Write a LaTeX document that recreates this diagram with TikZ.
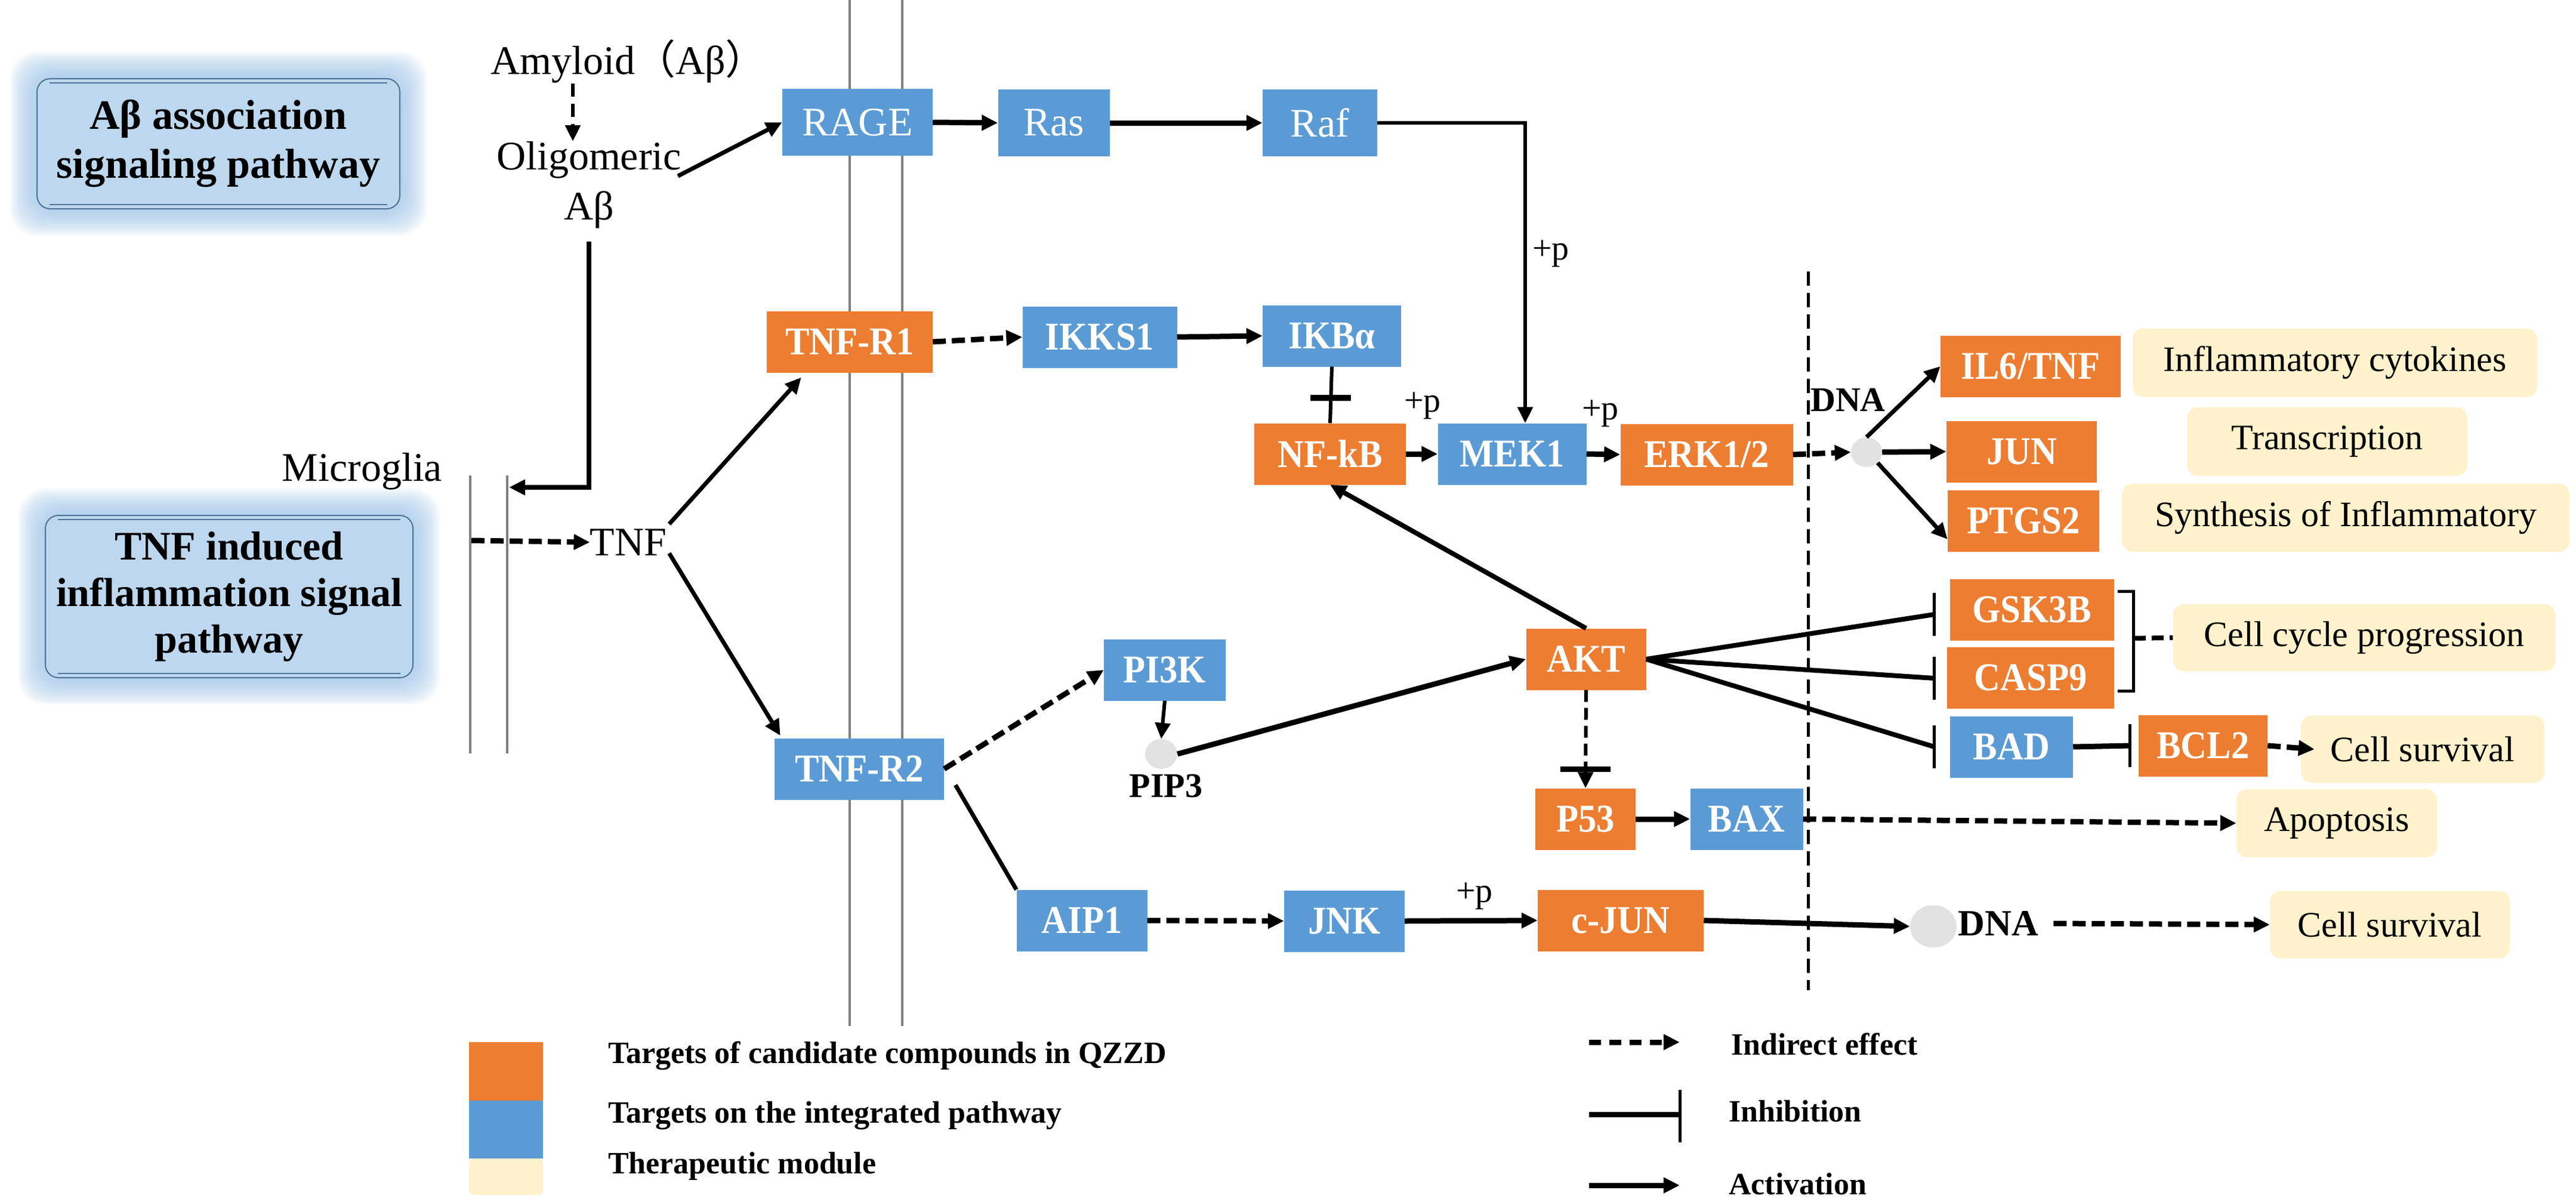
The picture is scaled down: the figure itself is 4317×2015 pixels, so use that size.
\documentclass[tikz,border=0pt]{standalone}
\usepackage{fontspec}
\setmainfont{Liberation Serif}
\newfontfamily\condbold[FakeStretch=0.92]{Liberation Serif Bold}
\newfontfamily\cjkfont{Noto Sans CJK SC}
\usetikzlibrary{arrows.meta,calc,shapes.geometric}
\definecolor{qorange}{HTML}{ED7D31}
\definecolor{qblue}{HTML}{5B9BD5}
\definecolor{qcream}{HTML}{FFF2CC}
\definecolor{qlight}{HTML}{BDD7EE}
\definecolor{qglow}{HTML}{9DC3E6}
\definecolor{qedge}{HTML}{4E7397}
\definecolor{qmem}{HTML}{808080}
\definecolor{qdna}{HTML}{E2E2E2}
\newcommand{\qfs}[2]{\fontsize{#1}{#2}\selectfont}
\begin{document}
\begin{tikzpicture}[x=1pt,y=-1pt,
  box/.style={minimum height=103, inner sep=0pt, text=white, font=\condbold\qfs{66}{66}},
  ob/.style={box, fill=qorange},
  bb/.style={box, fill=qblue},
  rb/.style={box, fill=qblue, minimum height=112, font=\qfs{68}{68}},
  cb/.style={fill=qcream, rounded corners=18, minimum height=114, inner sep=0pt, font=\qfs{60}{60}},
  lbl/.style={inner sep=0pt, font=\qfs{68}{68}},
  plabel/.style={inner sep=0pt, font=\qfs{58}{58}},
  boldlbl/.style={inner sep=0pt, font=\qfs{58}{58}\bfseries},
  lbox/.style={fill=qlight, draw=qedge, line width=2, rounded corners=22, align=center, inner sep=0pt},
  legtext/.style={anchor=west, inner sep=0pt, font=\qfs{52}{52}\bfseries},
  tip/.style={-{Triangle[length=27pt,width=25pt]}},
  act/.style={line width=9, tip},
  thinact/.style={line width=6, tip},
  dashact/.style={line width=9, dash pattern=on 22pt off 10pt, tip},
  dashline/.style={line width=8, dash pattern=on 20pt off 10pt},
  inh/.style={line width=8},
  barline/.style={line width=5},
  mem/.style={draw=qmem, line width=4},
  divider/.style={line width=5, dash pattern=on 24pt off 12pt},
  dnacirc/.style={ellipse, fill=qdna, inner sep=0pt}
]
\useasboundingbox (0,0) rectangle (4317,2015);

% ---------------- left panel boxes with glow ----------------
\foreach \d in {3,6,...,45}
  \fill[qglow, opacity=0.09, rounded corners=45] ({62-\d},{132-\d}) rectangle ({670+\d},{350+\d});
\node[lbox, minimum width=608, minimum height=218, font=\qfs{70}{82}\bfseries] (abox) at (366,241) {Aβ association\\signaling pathway};
\draw[qedge, line width=2] ($(abox.north west)+(22,8)$) -- ($(abox.north east)+(-22,8)$);
\draw[qedge, line width=2] ($(abox.south west)+(22,-8)$) -- ($(abox.south east)+(-22,-8)$);

\foreach \d in {3,6,...,45}
  \fill[qglow, opacity=0.09, rounded corners=45] ({76-\d},{864-\d}) rectangle ({692+\d},{1136+\d});
\node[lbox, minimum width=616, minimum height=272, font=\qfs{68}{78}\bfseries] (tbox) at (384,1000) {TNF induced\\inflammation signal\\pathway};
\draw[qedge, line width=2] ($(tbox.north west)+(22,8)$) -- ($(tbox.north east)+(-22,8)$);
\draw[qedge, line width=2] ($(tbox.south west)+(22,-8)$) -- ($(tbox.south east)+(-22,-8)$);

% ---------------- membranes ----------------
\draw[mem] (1424,0) -- (1424,1720);
\draw[mem] (1512,0) -- (1512,1720);
\draw[mem] (788,797) -- (788,1263);
\draw[mem] (850,797) -- (850,1263);
\draw[divider] (3030,455) -- (3030,1660);

% ---------------- free labels ----------------
\node[lbl] (amy) at (1053,103) {Amyloid{\cjkfont （}Aβ{\cjkfont ）}};
\node[lbl] (olig) at (987,268) {Oligomeric};
\node[lbl] (ab) at (987,352) {Aβ};
\node[lbl] (micro) at (607,790) {Microglia};
\node[lbl] (tnf) at (1053,909) {TNF};
\coordinate (mgin) at (853,817);
\coordinate (mout) at (790,906);

% ---------------- nodes ----------------
\node[rb, minimum width=252] (RAGE) at (1437,205) {RAGE};
\node[rb, minimum width=187] (Ras) at (1766,206) {Ras};
\node[rb, minimum width=192] (Raf) at (2212,206) {Raf};
\node[ob, minimum width=278] (TNFR1) at (1424,573) {TNF-R1};
\node[bb, minimum width=259] (IKKS1) at (1843,565) {IKKS1};
\node[bb, minimum width=232] (IKBa) at (2232,563) {IKBα};
\node[ob, minimum width=254] (NFkB) at (2229,761) {NF-kB};
\node[bb, minimum width=249] (MEK1) at (2534,761) {MEK1};
\node[ob, minimum width=289] (ERK) at (2860,762) {ERK1/2};
\node[ob, minimum width=302] (IL6) at (3403,614) {IL6/TNF};
\node[ob, minimum width=252] (JUN) at (3388,757) {JUN};
\node[ob, minimum width=254] (PTGS2) at (3391,873) {PTGS2};
\node[ob, minimum width=275] (GSK) at (3405,1022) {GSK3B};
\node[ob, minimum width=280] (CASP) at (3403,1136) {CASP9};
\node[bb, minimum width=206] (BAD) at (3371,1252) {BAD};
\node[ob, minimum width=216] (BCL2) at (3692,1250) {BCL2};
\node[ob, minimum width=201] (AKT) at (2658,1105) {AKT};
\node[ob, minimum width=168] (P53) at (2657,1373) {P53};
\node[bb, minimum width=189] (BAX) at (2927,1373) {BAX};
\node[ob, minimum width=278] (cJUN) at (2716,1543) {c-JUN};
\node[bb, minimum width=284] (TNFR2) at (1440,1289) {TNF-R2};
\node[bb, minimum width=204] (PI3K) at (1952,1123) {PI3K};
\node[bb, minimum width=219] (AIP1) at (1813,1543) {AIP1};
\node[bb, minimum width=202] (JNK) at (2253,1544) {JNK};

\node[dnacirc, minimum width=52, minimum height=50] (dna1) at (3128,758) {};
\node[boldlbl] (dnat1) at (3097,670) {DNA};
\node[dnacirc, minimum width=54, minimum height=50] (pip) at (1946,1264) {};
\node[boldlbl] (pipt) at (1954,1318) {PIP3};
\node[dnacirc, minimum width=78, minimum height=71] (dna2) at (3240,1553) {};
\node[boldlbl, font=\qfs{62}{62}\bfseries] (dnat2) at (3349,1548) {DNA};

% therapeutic modules
\node[cb, minimum width=678, minimum height=115] (infl) at (3913,608) {Inflammatory cytokines};
\node[cb, minimum width=469, minimum height=115] (trans) at (3900,740) {Transcription};
\node[cb, minimum width=750] (synth) at (3931,868) {Synthesis of Inflammatory};
\node[cb, minimum width=641, minimum height=112] (ccp) at (3962,1069) {Cell cycle progression};
\node[cb, minimum width=408, minimum height=113] (cs1) at (4060,1256) {Cell survival};
\node[cb, minimum width=336] (apop) at (3916,1380) {Apoptosis};
\node[cb, minimum width=402, minimum height=113] (cs2) at (4005,1550) {Cell survival};

% ---------------- connectors ----------------
\draw[dashact, line width=6, dash pattern=on 22pt off 12pt] (amy.south -| 960,0) -- (olig.north -| 960,0);
\draw[act, line width=7] ($(olig.south east)+(-6,-4)$) -- (RAGE.west);
\draw[act, line width=8] ($(ab.south)+(0,22)$) |- (mgin);
\draw[dashact] (mout) -- (tnf.west);
\draw[act, line width=7] ($(tnf.north east)+(4,-8)$) -- ($(TNFR1.south west)+(58,8)$);
\draw[act, line width=7] ($(tnf.south east)+(4,-4)$) -- ($(TNFR2.north west)+(10,-4)$);

\draw[act] (RAGE.east) -- (Ras.west);
\draw[act] (Ras.east) -- (Raf.west);
\draw[thinact] (Raf.east) -| ($(MEK1.north)+(22,0)$);
\node[plabel] (p1) at (2599,425) {+p};

\draw[dashact] (TNFR1.east) -- (IKKS1.west);
\draw[act] (IKKS1.east) -- (IKBa.west);
\draw[line width=6] (IKBa.south) -- (NFkB.north);
\draw[line width=10] ($(IKBa.south)!0.55!(NFkB.north)+(-34,0)$) -- ($(IKBa.south)!0.55!(NFkB.north)+(34,0)$);

\draw[act] (NFkB.east) -- (MEK1.west);
\draw[act] (MEK1.east) -- (ERK.west);
\node[plabel] (p2) at (2384,680) {+p};
\node[plabel] (p3) at (2682,693) {+p};

\draw[dashact] (ERK.east) -- (dna1.west);
\draw[act, line width=7] (dna1.north) -- (IL6.west);
\draw[act] (dna1.east) -- (JUN.west);
\draw[act, line width=7] (dna1.south east) -- ($(PTGS2.west)+(0,31)$);

\draw[act, line width=8] (AKT.north) -- (NFkB.south);
\draw[thinact] (PI3K.south) -- (pip.north);
\draw[act] (pip.east) -- (AKT.west);
\draw[dashact] (TNFR2.east) -- (PI3K.west);
\draw[line width=7] ($(TNFR2.east)+(19,27)$) -- (AIP1.north west);
\draw[dashact] (AIP1.east) -- (JNK.west);
\draw[act] (JNK.east) -- (cJUN.west);
\node[plabel] (p4) at (2471,1502) {+p};
\draw[act] (cJUN.east) -- (dna2.west);
\draw[dashact] ($(dnat2.east)+(25,0)$) -- (cs2.west);

% inhibitions from AKT
\coordinate (gb) at ($(GSK.west)+(-26,8)$);
\coordinate (cb) at ($(CASP.west)+(-21,1)$);
\coordinate (bdb) at ($(BAD.west)+(-26,0)$);
\draw[inh] (AKT.east) -- (gb);
\draw[inh] (AKT.east) -- (cb);
\draw[inh] (AKT.east) -- (bdb);
\draw[barline] ($(gb)+(0,-36)$) -- ($(gb)+(0,36)$);
\draw[barline] ($(cb)+(0,-36)$) -- ($(cb)+(0,36)$);
\draw[barline] ($(bdb)+(0,-36)$) -- ($(bdb)+(0,36)$);

\coordinate (bclb) at ($(BCL2.west)+(-14,0)$);
\draw[line width=9] (BAD.east) -- (bclb);
\draw[barline] ($(bclb)+(0,-36)$) -- ($(bclb)+(0,36)$);
\draw[dashact] (BCL2.east) -- ($(cs1.west)+(23,0)$);

% bracket
\coordinate (brt) at ($(GSK.north east)+(6,21)$);
\coordinate (brb) at ($(CASP.south east)+(6,-29)$);
\coordinate (brm) at ($(brt)!0.47!(brb)+(27,0)$);
\draw[line width=5] (brt) -- ++(27,0) |- (brb);
\draw[dashline] (brm) -- (ccp.west);

% AKT to P53
\draw[line width=6, dash pattern=on 20pt off 10pt, tip] (AKT.south) -- (P53.north);
\draw[line width=9] ($(P53.north)+(-42,-32)$) -- ($(P53.north)+(42,-32)$);
\draw[act] (P53.east) -- (BAX.west);
\draw[dashact] (BAX.east) -- (apop.west);

% ---------------- legend ----------------
\node[fill=qorange, minimum width=124, minimum height=98, inner sep=0pt] (lgo) at (848,1796) {};
\node[fill=qblue, minimum width=124, minimum height=97, inner sep=0pt] (lgb) at (848,1893.5) {};
\node[fill=qcream, rounded corners=8, minimum width=124, minimum height=61, inner sep=0pt] (lgc) at (848,1972.5) {};
\node[legtext] (lt1) at (1019,1770) {Targets of candidate compounds in QZZD};
\node[legtext] (lt2) at (1019,1870) {Targets on the integrated pathway};
\node[legtext] (lt3) at (1019,1955) {Therapeutic module};

\coordinate (la1) at (2663,1747);
\coordinate (lb1) at (2815,1747);
\coordinate (la2) at (2663,1868);
\coordinate (lb2) at (2815,1868);
\coordinate (la3) at (2663,1987);
\coordinate (lb3) at (2815,1987);
\draw[dashact, dash pattern=on 20pt off 14pt] (la1) -- (lb1);
\draw[inh, line width=9] (la2) -- (lb2);
\draw[barline] ($(lb2)+(0,-41)$) -- ($(lb2)+(0,47)$);
\draw[act] (la3) -- (lb3);
\node[legtext] (lr1) at (2901,1750) {Indirect effect};
\node[legtext] (lr2) at (2897,1863) {Inhibition};
\node[legtext] (lr3) at (2897,1985) {Activation};
\end{tikzpicture}
\end{document}
